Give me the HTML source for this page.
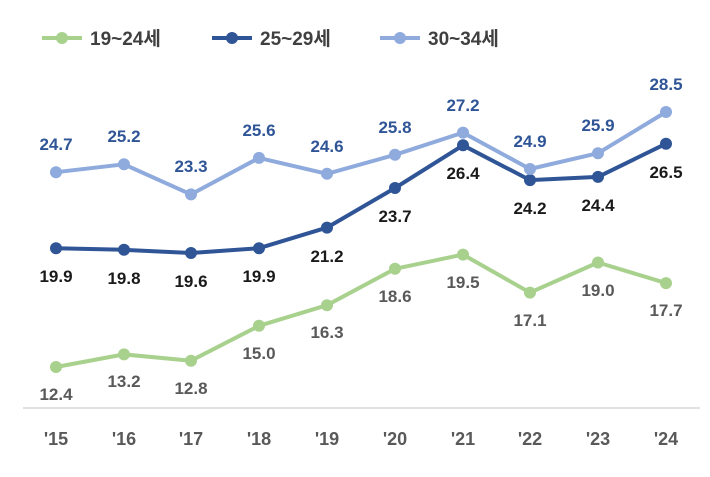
<!DOCTYPE html>
<html><head><meta charset="utf-8"><style>
body{margin:0;background:#fff}
svg text{font-family:"Liberation Sans","Noto Sans CJK KR",sans-serif;font-weight:bold}
</style></head><body>
<svg width="710" height="472" viewBox="0 0 710 472" xmlns="http://www.w3.org/2000/svg">
<g font-size="19">
<line x1="42" y1="38" x2="82" y2="38" stroke="#A9D18E" stroke-width="4"/><circle cx="62" cy="38" r="6" fill="#A9D18E"/>
<text x="90" y="45" fill="#404040">19~24세</text>
<line x1="212" y1="38" x2="252" y2="38" stroke="#2F5597" stroke-width="4"/><circle cx="232" cy="38" r="6" fill="#2F5597"/>
<text x="260" y="45" fill="#404040">25~29세</text>
<line x1="380" y1="38" x2="420" y2="38" stroke="#8FAADC" stroke-width="4"/><circle cx="400" cy="38" r="6" fill="#8FAADC"/>
<text x="428" y="45" fill="#404040">30~34세</text>
</g>
<line x1="23" y1="408" x2="700" y2="408" stroke="#d9d9d9" stroke-width="1.5"/>
<g font-size="18" fill="#595959" text-anchor="middle">
<text x="56" y="445">'15</text><text x="124" y="445">'16</text><text x="191" y="445">'17</text><text x="259" y="445">'18</text><text x="327" y="445">'19</text><text x="395" y="445">'20</text><text x="463" y="445">'21</text><text x="530" y="445">'22</text><text x="598" y="445">'23</text><text x="666" y="445">'24</text>
</g>

<polyline fill="none" stroke="#A9D18E" stroke-width="4" stroke-linejoin="round" points="56,367 124,354.4 191,360.7 259,325.8 327,305.2 395,268.8 463,254.6 530,292.6 598,262.5 666,283.1"/>
<g fill="#A9D18E"><circle cx="56" cy="367" r="6"/><circle cx="124" cy="354.4" r="6"/><circle cx="191" cy="360.7" r="6"/><circle cx="259" cy="325.8" r="6"/><circle cx="327" cy="305.2" r="6"/><circle cx="395" cy="268.8" r="6"/><circle cx="463" cy="254.6" r="6"/><circle cx="530" cy="292.6" r="6"/><circle cx="598" cy="262.5" r="6"/><circle cx="666" cy="283.1" r="6"/></g>
<g font-size="17" fill="#595959" text-anchor="middle">
<text x="56" y="400">12.4</text><text x="124" y="387">13.2</text><text x="191" y="394">12.8</text><text x="259" y="359">15.0</text><text x="327" y="338">16.3</text><text x="395" y="302">18.6</text><text x="463" y="288">19.5</text><text x="530" y="326">17.1</text><text x="598" y="296">19.0</text><text x="666" y="316">17.7</text>
</g>

<polyline fill="none" stroke="#2F5597" stroke-width="4" stroke-linejoin="round" points="56,248.2 124,249.8 191,253 259,248.2 327,227.6 395,188 463,145.3 530,180.1 598,176.9 666,143.7"/>
<g fill="#2F5597"><circle cx="56" cy="248.2" r="6"/><circle cx="124" cy="249.8" r="6"/><circle cx="191" cy="253" r="6"/><circle cx="259" cy="248.2" r="6"/><circle cx="327" cy="227.6" r="6"/><circle cx="395" cy="188" r="6"/><circle cx="463" cy="145.3" r="6"/><circle cx="530" cy="180.1" r="6"/><circle cx="598" cy="176.9" r="6"/><circle cx="666" cy="143.7" r="6"/></g>
<g font-size="17" fill="#1a1a1a" text-anchor="middle">
<text x="56" y="282">19.9</text><text x="124" y="284">19.8</text><text x="191" y="287">19.6</text><text x="259" y="282">19.9</text><text x="327" y="262">21.2</text><text x="395" y="222">23.7</text><text x="463" y="179">26.4</text><text x="530" y="214">24.2</text><text x="598" y="211">24.4</text><text x="666" y="178">26.5</text>
</g>

<polyline fill="none" stroke="#8FAADC" stroke-width="4" stroke-linejoin="round" points="56,172.2 124,164.3 191,194.4 259,157.9 327,173.8 395,154.8 463,132.6 530,169 598,153.2 666,112"/>
<g fill="#8FAADC"><circle cx="56" cy="172.2" r="6"/><circle cx="124" cy="164.3" r="6"/><circle cx="191" cy="194.4" r="6"/><circle cx="259" cy="157.9" r="6"/><circle cx="327" cy="173.8" r="6"/><circle cx="395" cy="154.8" r="6"/><circle cx="463" cy="132.6" r="6"/><circle cx="530" cy="169" r="6"/><circle cx="598" cy="153.2" r="6"/><circle cx="666" cy="112" r="6"/></g>
<g font-size="17" fill="#2F5597" text-anchor="middle">
<text x="56" y="150">24.7</text><text x="124" y="142">25.2</text><text x="191" y="172">23.3</text><text x="259" y="136">25.6</text><text x="327" y="152">24.6</text><text x="395" y="133">25.8</text><text x="463" y="111">27.2</text><text x="530" y="147">24.9</text><text x="598" y="131">25.9</text><text x="666" y="90">28.5</text>
</g>
</svg>
</body></html>
